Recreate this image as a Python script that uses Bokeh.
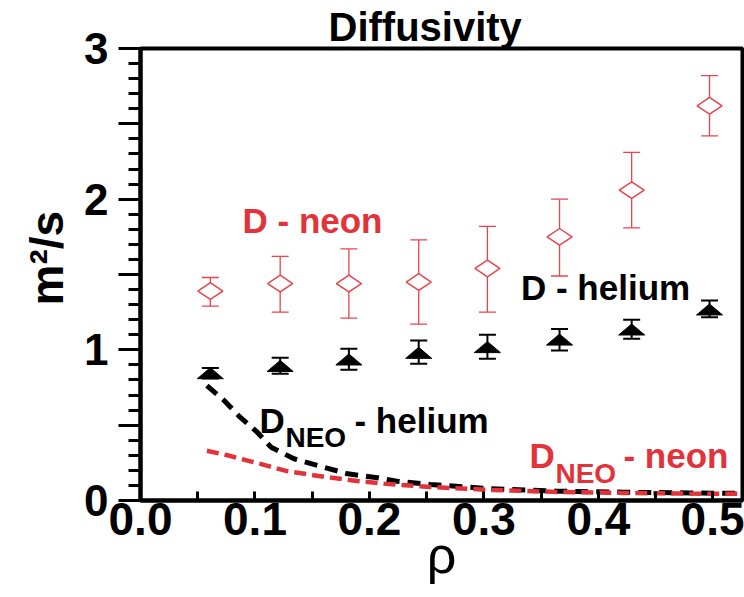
import math
from bokeh.plotting import figure
from bokeh.models import (Range1d, FixedTicker, PrintfTickFormatter, Whisker, TeeHead,
                          ColumnDataSource, Label, Title)
from bokeh.embed import file_html
from bokeh.resources import INLINE

# ---- data ----
rho = [0.061, 0.122, 0.182, 0.243, 0.303, 0.366, 0.429, 0.497]

d_neon = [1.39, 1.44, 1.44, 1.45, 1.54, 1.75, 2.06, 2.62]
d_neon_hi = [1.48, 1.62, 1.67, 1.73, 1.82, 2.00, 2.31, 2.82]
d_neon_lo = [1.29, 1.25, 1.21, 1.17, 1.25, 1.49, 1.81, 2.42]

d_helium = [0.845, 0.893, 0.936, 0.980, 1.018, 1.068, 1.135, 1.268]
d_helium_hi = [0.880, 0.947, 1.007, 1.062, 1.100, 1.139, 1.199, 1.327]
d_helium_lo = [0.810, 0.841, 0.867, 0.907, 0.940, 0.996, 1.073, 1.217]

neo_he_rho = [0.058, 0.073, 0.087, 0.102, 0.114, 0.134, 0.160, 0.181, 0.207,
              0.224, 0.253, 0.306, 0.364, 0.422, 0.480, 0.526]
neo_he = [0.763, 0.664, 0.553, 0.453, 0.354, 0.277, 0.221, 0.177, 0.151,
          0.128, 0.106, 0.078, 0.062, 0.055, 0.050, 0.047]

neo_ne_rho = [0.058, 0.076, 0.096, 0.111, 0.128, 0.151, 0.166, 0.189, 0.2125,
              0.253, 0.306, 0.364, 0.422, 0.480, 0.526]
neo_ne = [0.330, 0.300, 0.260, 0.230, 0.195, 0.168, 0.152, 0.130, 0.112,
          0.090, 0.070, 0.057, 0.050, 0.046, 0.044]

y_major = [0, 0.5, 1, 1.5, 2, 2.5, 3]
y_minor = [round(i * 0.1, 1) for i in range(31) if i % 5]
x_major = [0.0, 0.1, 0.2, 0.3, 0.4, 0.5]
x_minor = [0.05, 0.15, 0.25, 0.35, 0.45, 0.55]

RED = "#e2323a"
RED_M = "#e8454b"
FONT = "Liberation Sans"

X_MAX = 0.5258
Y_MAX = 3.0
W, H = 744, 597
BL, BR, BT, BB = 140, 2, 48, 97
FW, FH = W - BL - BR, H - BT - BB

p = figure(width=W, height=H, frame_width=FW, frame_height=FH,
           x_range=Range1d(0, X_MAX), y_range=Range1d(0, Y_MAX),
           output_backend="svg", toolbar_location=None,
           min_border_left=BL, min_border_right=BR, min_border_top=BT, min_border_bottom=BB)
p.xgrid.visible = False
p.ygrid.visible = False
p.outline_line_color = "black"
p.outline_line_width = 4
p.background_fill_color = "white"
p.border_fill_color = "white"

# ---- title ----
p.title.text = "Diffusivity"
p.title.align = "left"
p.title.offset = 188
p.title.vertical_align = "bottom"
p.title.standoff = 0
p.title.text_font = FONT
p.title.text_font_style = "bold"
p.title.text_font_size = "40px"
p.title.text_color = "black"

# ---- y label as a side title ----
p.add_layout(Title(text="m²/s", align="left", offset=195, vertical_align="bottom",
                   standoff=18, text_font=FONT, text_font_style="bold",
                   text_font_size="46px", text_color="black"), "left")

# ---- axes ----
yax = p.yaxis[0]
yax.ticker = FixedTicker(ticks=y_major, minor_ticks=y_minor)
yax.formatter = PrintfTickFormatter(format="%d")
yax.major_label_overrides = {0.5: "", 1.5: "", 2.5: ""}
yax.axis_line_width = 4
yax.major_tick_out = 22
yax.major_tick_in = 0
yax.minor_tick_out = 12
yax.minor_tick_in = 0
yax.major_tick_line_width = 3
yax.minor_tick_line_width = 3
yax.major_label_text_font = FONT
yax.major_label_text_font_style = "bold"
yax.major_label_text_font_size = "44px"
yax.major_label_text_color = "black"
yax.major_label_standoff = 10

xax = p.xaxis[0]
xax.ticker = FixedTicker(ticks=x_major, minor_ticks=x_minor)
xax.formatter = PrintfTickFormatter(format="%.1f")
xax.axis_line_width = 4
xax.major_tick_out = 0
xax.major_tick_in = 9
xax.minor_tick_out = 0
xax.minor_tick_in = 9
xax.major_tick_line_width = 3
xax.minor_tick_line_width = 3
xax.major_label_text_font = FONT
xax.major_label_text_font_style = "bold"
xax.major_label_text_font_size = "46px"
xax.major_label_text_color = "black"
xax.major_label_standoff = 2
xax.axis_label = "ρ"
xax.axis_label_text_font = FONT
xax.axis_label_text_font_style = "normal"
xax.axis_label_text_font_size = "52px"
xax.axis_label_text_color = "black"
xax.axis_label_standoff = -12

# ---- neoclassical curves ----
p.line(neo_he_rho, neo_he, line_color="black", line_width=5, line_dash="13 8")
p.line(neo_ne_rho, neo_ne, line_color=RED, line_width=4.5, line_dash="12 6")

# ---- error bars ----
src_ne = ColumnDataSource(dict(x=rho, lo=d_neon_lo, hi=d_neon_hi))
p.add_layout(Whisker(source=src_ne, base="x", upper="hi", lower="lo",
                     line_color=RED_M, line_width=1.3,
                     upper_head=TeeHead(size=17, line_color=RED_M, line_width=1.3),
                     lower_head=TeeHead(size=17, line_color=RED_M, line_width=1.3)))
src_he = ColumnDataSource(dict(x=rho, lo=d_helium_lo, hi=d_helium_hi))
p.add_layout(Whisker(source=src_he, base="x", upper="hi", lower="lo",
                     line_color="black", line_width=2,
                     upper_head=TeeHead(size=17, line_color="black", line_width=2),
                     lower_head=TeeHead(size=17, line_color="black", line_width=2)))

# ---- markers ----
p.scatter(rho, d_neon, marker="diamond", angle=math.pi / 2, size=25,
          fill_color="white", line_color=RED_M, line_width=1.5)

px_x = FW / X_MAX
px_y = FH / Y_MAX
hw = 13 / px_x
hh = 5.5 / px_y
tri_xs = [[x - hw, x, x + hw] for x in rho]
tri_ys = [[y - hh, y + hh, y - hh] for y in d_helium]
p.patches(tri_xs, tri_ys, fill_color="black", line_color="black", line_width=1)

# ---- in-plot labels ----
def lab(x, y, text, size, color="black"):
    p.add_layout(Label(x=x, y=y, text=text, text_font=FONT, text_font_style="bold",
                       text_font_size=size, text_color=color, text_align="left",
                       text_baseline="alphabetic"))

BIG, SMALL = 0.10, 0.075  # baseline correction in data units
lab(0.0891, 1.759 + BIG, "D - neon", "35px", color=RED)
lab(0.3323, 1.316 + BIG, "D - helium", "35px")

lab(0.104, 0.431 + BIG, "D", "35px")
lab(0.1266, 0.343 + SMALL, "NEO", "28px")
lab(0.1869, 0.431 + BIG, "- helium", "35px")

lab(0.3397, 0.199 + BIG, "D", "35px", color=RED)
lab(0.3624, 0.106 + SMALL, "NEO", "28px", color=RED)
lab(0.4218, 0.199 + BIG, "- neon", "35px", color=RED)

open("out.html", "w").write(file_html(p, INLINE))
